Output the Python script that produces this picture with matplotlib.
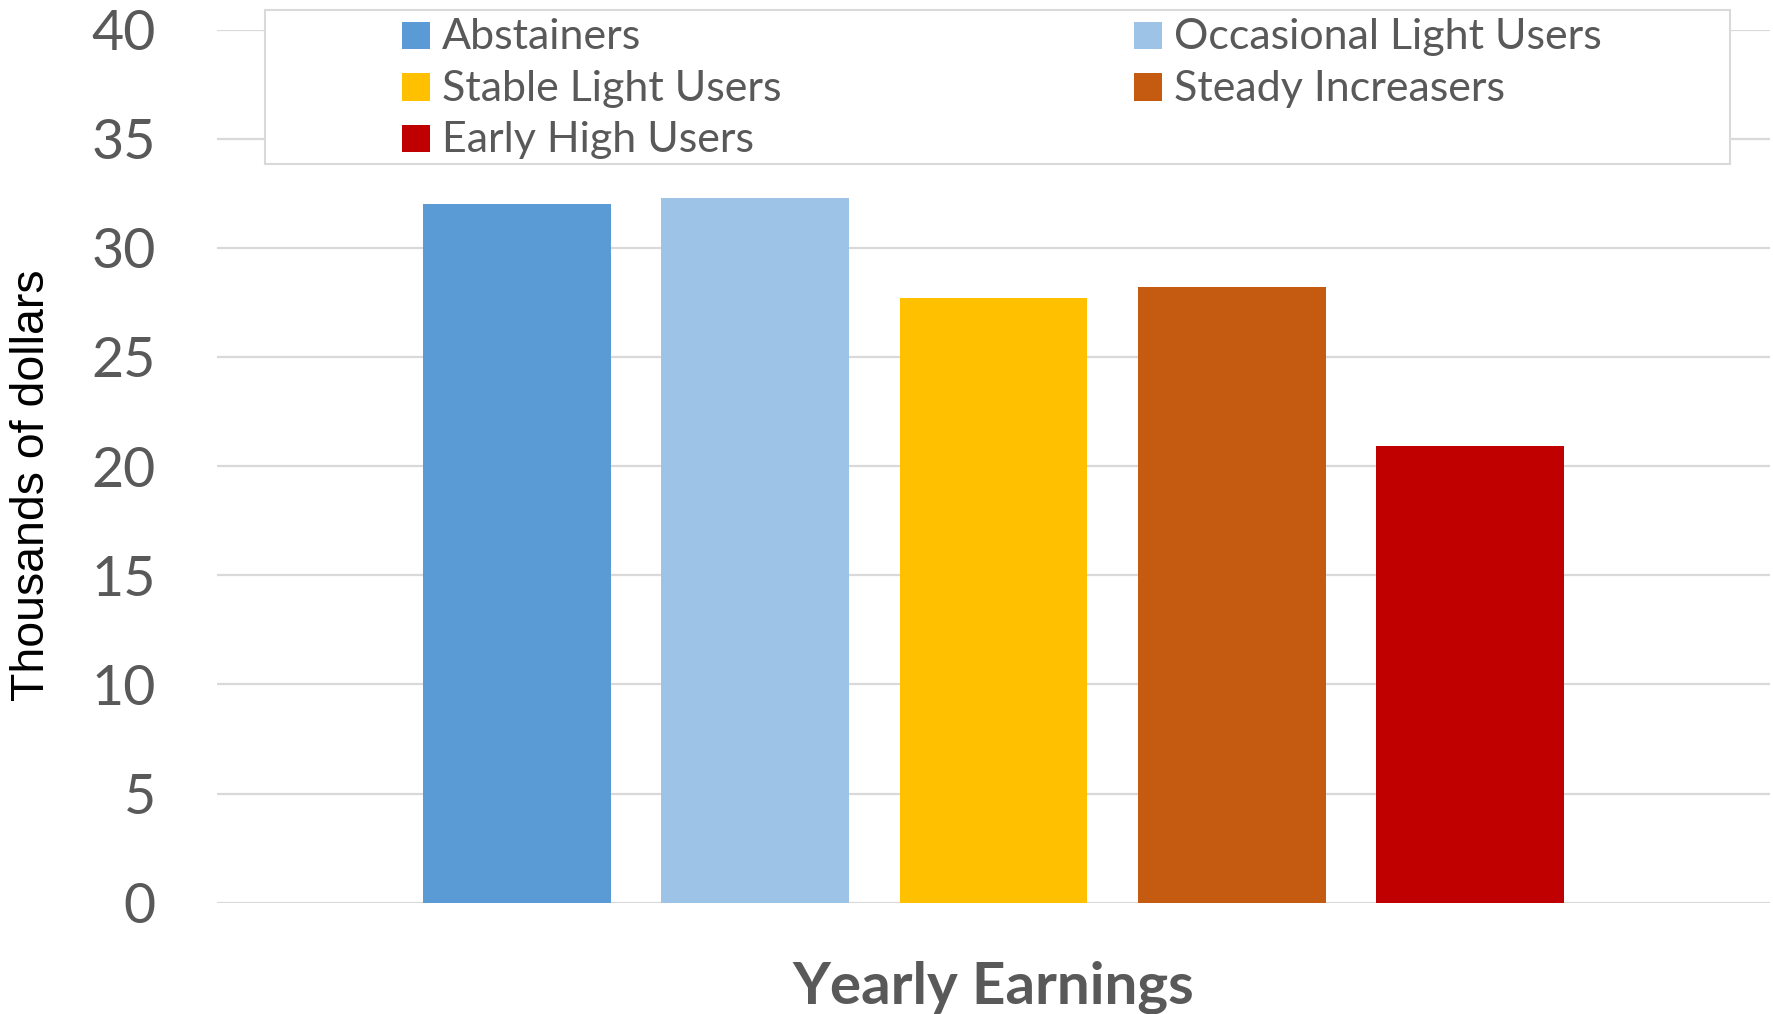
import numpy as np
import matplotlib
matplotlib.use("Agg")
import matplotlib.pyplot as plt
from matplotlib.patches import Rectangle

# earnings per trajectory group, thousands of dollars
groups = ["Abstainers", "Occasional Light Users", "Stable Light Users",
          "Steady Increasers", "Early High Users"]
earnings = [32.0, 32.3, 27.7, 28.2, 20.9]
colors = ["#5B9BD5", "#9DC3E6", "#FFC000", "#C55A11", "#C00000"]
yticks = [0, 5, 10, 15, 20, 25, 30, 35, 40]

W, H = 1773, 1014
grey = "#595959"
grid_grey = "#D9D9D9"

fig = plt.figure(figsize=(W / 100, H / 100), dpi=100)
ax = fig.add_axes([217 / W, 111.3 / H, 1553 / W, 873.2 / H])

step = 0.1533
xpos = (np.arange(len(groups)) - 2) * step
ax.bar(xpos, earnings, width=0.121, color=colors, zorder=3)

ax.set_xlim(-0.5, 0.5)
ax.set_ylim(0, 40)
ax.set_yticks(yticks)
ax.set_xticks([])
ax.grid(axis="y", color=grid_grey, linewidth=1.6, zorder=0)
for s in ax.spines.values():
    s.set_visible(False)
ax.tick_params(axis="y", length=0, pad=44, labelsize=40, labelcolor=grey)
for lab in ax.get_yticklabels():
    lab.set_fontfamily("Lato")

ax.set_xlabel("Yearly Earnings", fontsize=42, fontweight="bold",
              color=grey, family="Lato", va="baseline")
ax.xaxis.set_label_coords(0.5, -0.116)

fig.text(32 / W, 1 - 485 / H, "Thousands of dollars", rotation=90,
         ha="center", va="center", fontsize=33.5, family="Liberation Sans",
         color="black")

# legend box with two columns of entries
fig.patches.append(Rectangle((264.6 / W, 1 - 163.7 / H), (1730 - 264.6) / W,
                             (163.7 - 10) / H, transform=fig.transFigure,
                             facecolor="white", edgecolor=grid_grey,
                             linewidth=1.5, zorder=5))
col_x = [401.5, 1134]
row_base = [49, 100.5, 152]
for i, (name, c) in enumerate(zip(groups, colors)):
    cx = col_x[i % 2]
    by = row_base[i // 2]
    fig.patches.append(Rectangle((cx / W, 1 - by / H), 28 / W, 27 / H,
                                 transform=fig.transFigure, facecolor=c,
                                 edgecolor="none", zorder=6))
    fig.text((cx + 40) / W, 1 - by / H, name, ha="left", va="baseline",
             fontsize=31, family="Lato", color=grey, zorder=7)

fig.savefig("out.png", dpi=100)
